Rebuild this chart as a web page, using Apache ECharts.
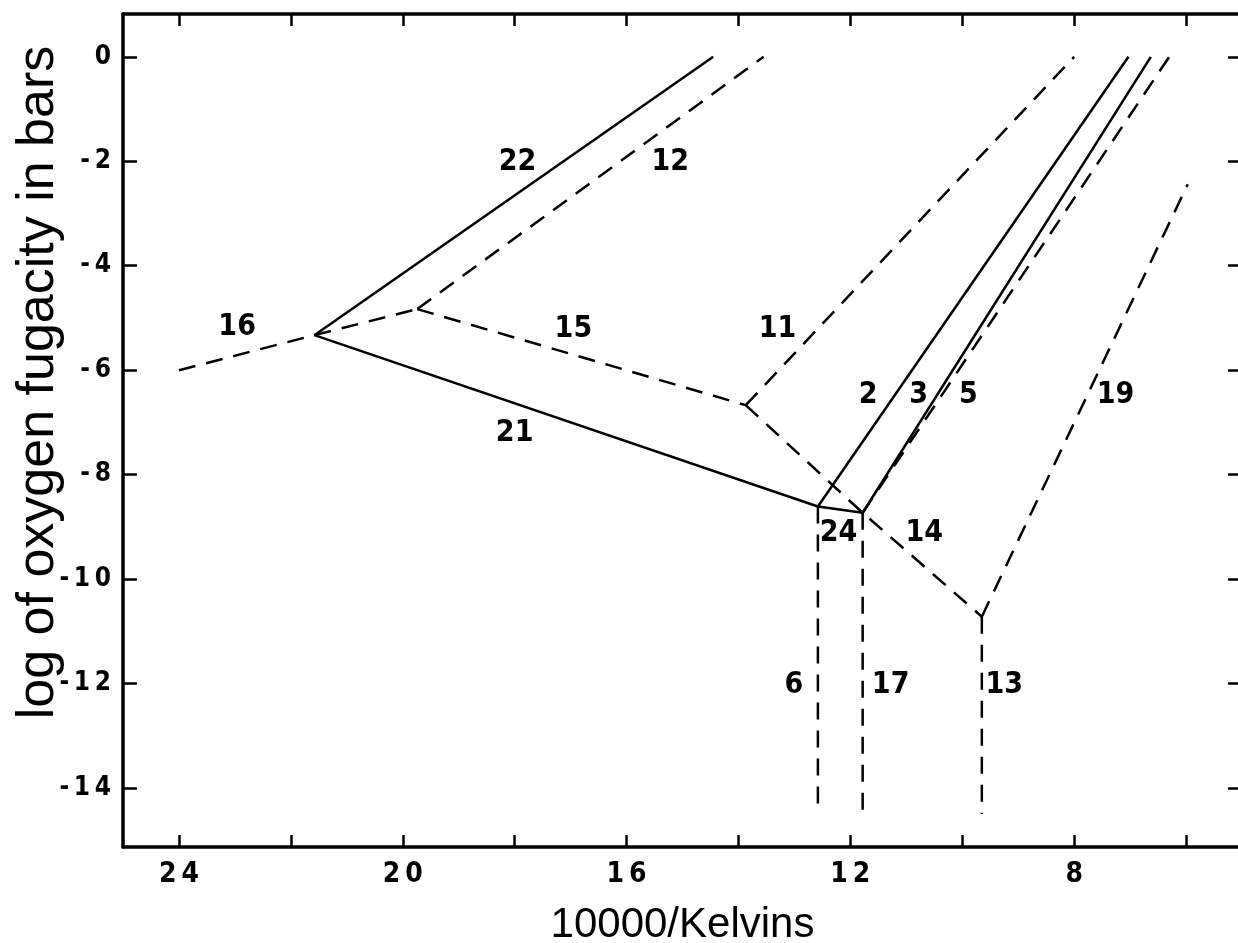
<!DOCTYPE html>
<html><head><meta charset="utf-8">
<script src="https://cdn.jsdelivr.net/npm/echarts@6/dist/echarts.min.js"></script>
<style>html,body{margin:0;padding:0;background:#fff}#c{width:1238px;height:943px}</style>
</head><body><div id="c"></div>
<script>
// ---- axis ticks ----
const xTicks = [24, 22, 20, 18, 16, 14, 12, 10, 8, 6];
const xTickLabels = [24, 20, 16, 12, 8];
const yTicks = [0, -2, -4, -6, -8, -10, -12, -14];
const yTickLabels = [0, -2, -4, -6, -8, -10, -12, -14];

// ---- invariant (junction) points [10000/K, log fO2] ----
const pA = [21.58, -5.33];
const pB = [19.74, -4.83];
const pC = [13.87, -6.67];
const pD = [12.58, -8.61];
const pE = [11.78, -8.73];
const pF = [9.65, -10.72];

// ---- boundary curves ----
const line22 = [pA, [14.45, 0]];
const line21 = [pA, pD];
const line24 = [pD, pE];
const line2 = [pD, [7.03, 0]];
const line3 = [pE, [6.63, 0]];
const line16 = [[24.0, -6.0], pA, pB];
const line12 = [pB, [13.55, 0]];
const line15 = [pB, pC];
const line11 = [pC, [8.0, 0]];
const line14 = [pC, pE, pF];
const line5 = [pE, [6.30, 0]];
const line19 = [pF, [5.97, -2.44]];
const line6 = [pD, [12.58, -14.5]];
const line17 = [pE, [11.78, -14.5]];
const line13 = [pF, [9.65, -14.5]];

// ---- curve labels ----
const labelNames = ['22', '12', '16', '15', '11', '2', '3', '5', '19', '21', '24', '14', '6', '17', '13'];
const labelX = [17.95, 15.22, 22.96, 16.95, 13.30, 11.68, 10.78, 9.89, 7.26, 18.0, 12.21, 10.68, 13.01, 11.28, 9.25];
const labelY = [-2.02, -2.02, -5.17, -5.22, -5.22, -6.48, -6.48, -6.48, -6.48, -7.21, -9.12, -9.12, -12.03, -12.03, -12.03];

const solidLines = [line22, line21, line24, line2, line3];
const dashedLines = [line16, line12, line15, line11, line14, line5, line19, line6, line17, line13];

const NARROW = "'Liberation Sans Narrow', 'DejaVu Sans Condensed', 'Liberation Sans', sans-serif";
const SANS = "'Liberation Sans', Arial, sans-serif";
const spaced = v => String(v).split('').join('\u2009');

function mkLine(data, dashed) {
  return {
    type: 'line', data: data, showSymbol: false, symbol: 'none', silent: true,
    animation: false, z: 3,
    lineStyle: { color: '#000', width: 2.5, type: dashed ? [17, 11] : 'solid' }
  };
}

const series = [];
solidLines.forEach(d => series.push(mkLine(d, false)));
dashedLines.forEach(d => series.push(mkLine(d, true)));
series.push({
  type: 'scatter', symbolSize: 0, silent: true, animation: false, z: 5,
  itemStyle: { color: '#000', opacity: 1 },
  data: labelNames.map((n, i) => ({ name: n, value: [labelX[i], labelY[i]] })),
  label: { show: true, position: 'inside', formatter: '{b}', color: '#000000', opacity: 1,
           textBorderWidth: 0, fontSize: 30, fontWeight: 'bold', fontFamily: NARROW }
});

const axisCommonX = {
  type: 'value', inverse: true, min: 5, max: 25,
  splitLine: { show: false },
  axisLine: { show: true, onZero: false, lineStyle: { color: '#000', width: 3.5 } },
  axisTick: { show: true, inside: true, length: 12, customValues: xTicks,
              lineStyle: { color: '#000', width: 2.5 } }
};
const axisCommonY = {
  type: 'value', min: -15.13, max: 0.82,
  splitLine: { show: false },
  axisLine: { show: true, onZero: false, lineStyle: { color: '#000', width: 3.5 } },
  axisTick: { show: true, inside: true, length: 14, customValues: yTicks,
              lineStyle: { color: '#000', width: 2.5 } }
};

const option = {
  backgroundColor: '#fff',
  animation: false,
  grid: { left: 123, right: -4, top: 14, bottom: 96, containLabel: false, outerBoundsMode: 'none' },
  xAxis: [
    Object.assign({}, axisCommonX, {
      position: 'bottom',
      axisLabel: { show: true, customValues: xTickLabels, margin: 14, color: '#000',
                   fontSize: 28, fontWeight: 'bold', fontFamily: NARROW, formatter: spaced },
      name: '10000/Kelvins', nameLocation: 'middle', nameGap: 57, nameMoveOverlap: false,
      nameTextStyle: { color: '#000', fontSize: 42, fontFamily: SANS }
    }),
    Object.assign({}, axisCommonX, { position: 'top', axisLabel: { show: false } })
  ],
  yAxis: [
    Object.assign({}, axisCommonY, {
      position: 'left',
      axisLabel: { show: true, customValues: yTickLabels, margin: 12, color: '#000',
                   fontSize: 26, fontWeight: 'bold', fontFamily: NARROW, formatter: spaced },
      name: 'log of oxygen fugacity in bars', nameLocation: 'middle', nameGap: 58,
      nameRotate: 90, nameMoveOverlap: false,
      nameTextStyle: { color: '#000', fontSize: 52, fontFamily: SANS, padding: [0, 0, 0, 96] }
    }),
    Object.assign({}, axisCommonY, { position: 'right', axisLabel: { show: false } })
  ],
  series: series
};

const chart = echarts.init(document.getElementById('c'), null, { renderer: 'canvas' });
chart.setOption(option);
</script>
</body></html>
